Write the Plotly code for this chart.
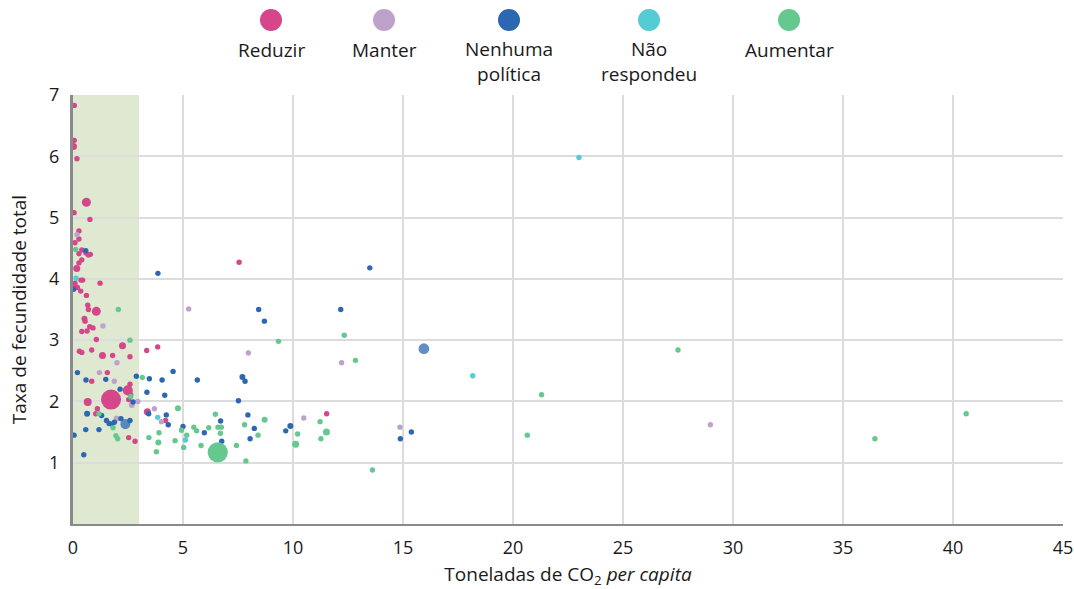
import plotly.graph_objects as go

# Fertility vs. CO2 emissions per capita, grouped by population policy
# Each group: CO2 (t per capita), total fertility rate, population (millions)

reduzir_co2 = [0.06, 0.06, 0.02, 0.18, 0.61, 0.05, 0.77, 0.27, 0.27, 0.09, 0.40, 0.59, 0.70, 0.79,
               0.27, 0.40, 0.27, 0.17, 0.36, 0.44, 1.23, 0.09, 0.20, 0.06, 0.35, 0.61, 1.06, 0.67,
               0.70, 0.52, 0.55, 0.76, 0.91, 0.40, 0.64, 2.25, 1.06, 1.34, 1.80, 0.29, 0.40, 0.85,
               2.59, 1.56, 0.85, 2.59, 7.55, 3.85, 3.35, 3.38, 4.21, 2.82, 11.53, 1.73, 2.49, 0.67,
               2.53, 2.62, 1.11, 1.03, 2.53]
reduzir_tfr = [6.83, 6.26, 6.16, 5.96, 5.25, 5.08, 4.97, 4.78, 4.65, 4.59, 4.47, 4.42, 4.39, 4.40,
               4.41, 4.31, 4.26, 4.17, 3.98, 3.98, 3.93, 3.93, 3.86, 3.88, 3.80, 3.73, 3.47, 3.57,
               3.50, 3.35, 3.31, 3.22, 3.20, 3.14, 3.15, 2.91, 3.01, 2.75, 2.75, 2.82, 2.80, 2.84,
               2.73, 2.47, 2.33, 2.28, 4.27, 2.89, 2.83, 1.83, 1.69, 1.35, 1.80, 2.03, 2.18, 1.99,
               2.03, 2.11, 1.88, 1.80, 1.41]
reduzir_pop = [22, 18, 170, 16, 280, 20, 14, 25, 85, 19, 24, 17, 21, 23,
               15, 26, 18, 170, 20, 16, 28, 12, 22, 19, 85, 14, 280, 24,
               18, 125, 16, 20, 27, 13, 22, 170, 21, 170, 25, 18, 15, 26,
               20, 28, 16, 22, 6, 56, 12, 170, 18, 10, 5, 1380, 350, 220,
               20, 24, 17, 26, 11]

manter_co2 = [0.18, 1.36, 2.00, 1.20, 1.88, 2.67, 2.95, 1.99, 3.70, 4.02, 5.26, 7.97, 10.49,
              12.21, 14.86, 28.97]
manter_tfr = [4.72, 3.23, 2.63, 2.47, 2.33, 1.94, 2.00, 1.72, 1.88, 1.67, 3.51, 2.79, 1.73,
              2.63, 1.58, 1.62]
manter_pop = [85, 18, 20, 25, 85, 125, 22, 125, 85, 16, 10, 12, 15, 9, 8, 6]

nenhuma_co2 = [0.58, 0.03, 0.20, 0.59, 1.49, 2.14, 2.73, 0.64, 1.30, 1.52, 1.64, 1.76, 1.88, 2.18,
               2.59, 2.38, 0.58, 1.18, 0.05, 0.49, 3.86, 8.44, 8.70, 4.55, 2.88, 3.47, 4.05, 5.65,
               7.70, 7.82, 3.36, 4.17, 7.52, 3.44, 4.24, 7.95, 4.33, 6.71, 8.24, 9.88, 9.67, 5.00,
               5.97, 8.05, 6.76, 13.49, 12.17, 15.95, 15.38, 14.88]
nenhuma_tfr = [4.46, 3.83, 2.47, 2.35, 2.36, 2.20, 1.99, 1.80, 1.77, 1.69, 1.64, 1.63, 1.66, 1.72,
               1.69, 1.63, 1.54, 1.54, 1.45, 1.13, 4.09, 3.50, 3.31, 2.49, 2.41, 2.37, 2.35, 2.35,
               2.40, 2.33, 2.15, 2.10, 2.01, 1.80, 1.78, 1.78, 1.62, 1.68, 1.56, 1.60, 1.52, 1.59,
               1.49, 1.39, 1.35, 4.18, 3.50, 2.86, 1.50, 1.39]
nenhuma_pop = [20, 85, 18, 22, 16, 24, 19, 125, 21, 17, 23, 20, 26, 18,
               15, 350, 22, 19, 14, 85, 12, 10, 56, 14, 20, 56, 18, 85,
               125, 16, 22, 17, 12, 20, 15, 14, 19, 16, 13, 126, 11, 17,
               14, 10, 12, 9, 8, 400, 85, 11]

nao_co2 = [0.14, 3.85, 5.11, 18.17, 23.0]
nao_tfr = [4.01, 1.74, 1.37, 2.42, 5.98]
nao_pop = [20, 18, 16, 56, 4]

aumentar_co2 = [0.12, 2.06, 2.59, 3.15, 2.62, 1.18, 1.82, 1.95, 2.03, 4.77, 6.47, 8.71, 7.80, 5.49,
                6.17, 6.59, 6.74, 4.93, 5.62, 6.70, 3.91, 8.41, 5.17, 3.45, 4.64, 3.88, 5.82, 5.03,
                7.43, 6.58, 3.79, 7.86, 9.34, 12.33, 12.84, 11.23, 10.21, 11.52, 10.12, 11.27, 20.65,
                13.61, 21.30, 27.50, 36.45, 40.60]
aumentar_tfr = [4.48, 3.50, 3.00, 2.39, 2.08, 1.80, 1.57, 1.44, 1.39, 1.89, 1.79, 1.70, 1.62, 1.58,
                1.57, 1.58, 1.58, 1.53, 1.52, 1.48, 1.49, 1.45, 1.45, 1.41, 1.36, 1.33, 1.28, 1.25,
                1.28, 1.17, 1.18, 1.03, 2.98, 3.08, 2.67, 1.67, 1.47, 1.50, 1.30, 1.39, 1.45,
                0.88, 2.11, 2.84, 1.39, 1.80]
aumentar_pop = [18, 16, 20, 22, 19, 85, 17, 21, 15, 126, 87, 126, 18, 16,
                20, 14, 17, 19, 22, 15, 18, 16, 21, 14, 17, 126, 87, 87,
                87, 1410, 16, 12, 10, 9, 8, 14, 12, 170, 170, 11, 7,
                87, 6, 5, 4, 5]

policies = ["Reduzir", "Manter", "Nenhuma<br>política", "Não<br>respondeu", "Aumentar"]
colors = ["#D5468A", "#BEA2CC", "#2C67B1", "#55CCD3", "#64C88F"]

groups = [
    (reduzir_co2, reduzir_tfr, reduzir_pop),
    (manter_co2, manter_tfr, manter_pop),
    (nenhuma_co2, nenhuma_tfr, nenhuma_pop),
    (nao_co2, nao_tfr, nao_pop),
    (aumentar_co2, aumentar_tfr, aumentar_pop),
]

FONT = "Open Sans"
TEXT = "#1a1a1a"
SIZEREF = 6.9  # population (millions) -> marker area

fig = go.Figure()
for name, color, (xs, ys, pops) in zip(policies, colors, groups):
    label = name.replace("<br>", " ")
    opac = [0.75 if (label.startswith("Nenhuma") and p >= 300) else 1 for p in pops]
    fig.add_trace(go.Scatter(
        x=xs, y=ys, mode="markers", name=label,
        marker=dict(size=pops, sizemode="area", sizeref=SIZEREF, sizemin=2.7,
                    color=color, opacity=opac, line=dict(width=0)),
        hovertemplate="%{x:.1f} t, TFT %{y:.2f}<extra>" + label + "</extra>",
        showlegend=False,
    ))

# Low-emission band (0–3 t per capita)
fig.add_shape(type="rect", xref="x", yref="y", x0=0, x1=3, y0=0, y1=7,
              fillcolor="#DFE9D2", line=dict(width=0), layer="below")

# Custom legend: circle above each label
L, R, T, B = 73, 11, 95, 65
W, H = 1074 - L - R, 589 - T - B
def px_to_paper(px, py):
    return (px - L) / W, (589 - B - py) / H

legend_x = [271, 384, 509, 649, 789]
for lx, name, color in zip(legend_x, policies, colors):
    cx, cy = px_to_paper(lx, 20)
    fig.add_shape(type="circle", xref="paper", yref="paper",
                  xsizemode="pixel", ysizemode="pixel", xanchor=cx, yanchor=cy,
                  x0=-11, x1=11, y0=-11, y1=11, fillcolor=color, line=dict(width=0))
    n_lines = name.count("<br>") + 1
    tx, ty = px_to_paper(lx, 50 + 11.5 * (n_lines - 1))
    fig.add_annotation(x=tx, y=ty, xref="paper", yref="paper", text=name,
                       showarrow=False, xanchor="center", yanchor="middle",
                       font=dict(family=FONT, size=19, color=TEXT))

fig.update_layout(
    width=1074, height=589,
    margin=dict(l=L, r=R, t=T, b=B, autoexpand=False),
    paper_bgcolor="white", plot_bgcolor="white",
    font=dict(family=FONT, size=18, color=TEXT),
)
fig.update_xaxes(
    range=[0, 45], tick0=0, dtick=5, showgrid=True, gridcolor="#DCDCDC", gridwidth=2,
    zeroline=False, showline=True, linecolor="#8A8A8A", linewidth=2,
    ticks="", ticklabelstandoff=6, tickfont=dict(size=18, color=TEXT), automargin=False,
    title=dict(text="Toneladas de CO<sub>2</sub> <i>per capita</i>", standoff=10,
               font=dict(size=19, color=TEXT)),
)
fig.update_yaxes(
    range=[0, 7], tickvals=[1, 2, 3, 4, 5, 6, 7], showgrid=True, gridcolor="#DCDCDC", gridwidth=2,
    zeroline=False, showline=True, linecolor="#8A8A8A", linewidth=3,
    ticks="", ticklabelstandoff=7, tickfont=dict(size=18, color=TEXT), automargin=False,
    title=dict(text="Taxa de fecundidade total", standoff=18, font=dict(size=19, color=TEXT)),
)

fig.write_html("out.html")
